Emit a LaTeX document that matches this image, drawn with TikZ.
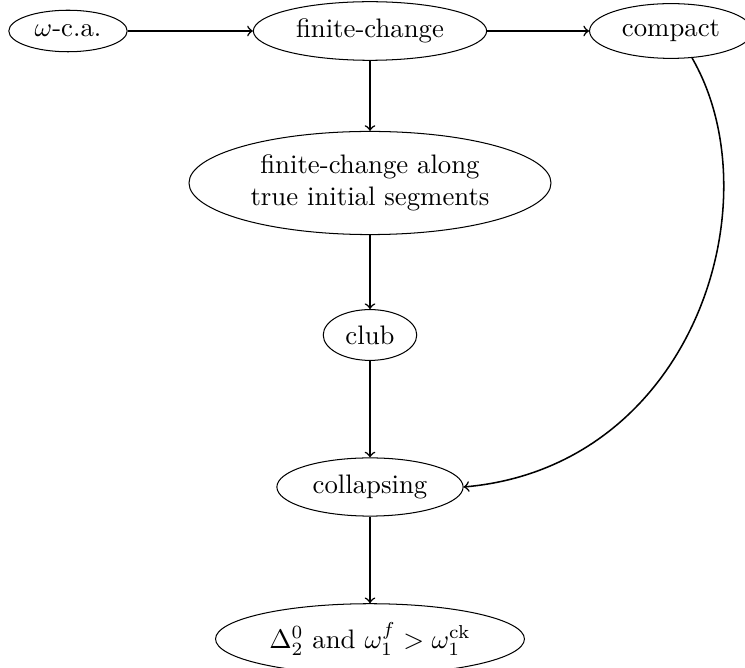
\RequirePackage{fix-cm}
\documentclass[tikz,border=0pt]{standalone}
\usepackage{amsmath}
\usetikzlibrary{shapes.geometric}
\begin{document}
\begin{tikzpicture}[x=0.3906pt,y=-0.3906pt,
  box/.style={draw,ellipse,align=center,font=\fontsize{10.45}{12.3}\selectfont},
  conn/.style={->,semithick}]
\useasboundingbox (0,0) rectangle (745,668);
\node[box] (wca) at (68,31) {$\omega$-c.a.};
\node[box] (fc) at (370,31) {finite-change};
\node[box] (cp) at (671,31) {compact};
\node[box] (fa) at (370,183) {finite-change along\\true initial segments};
\node[box] (club) at (370,335) {club};
\node[box] (col) at (370,487) {collapsing};
\node[box] (d2) at (370,639) {$\Delta^0_2$ and $\omega_1^f>\omega_1^{\mathrm{ck}}$};
\draw[conn] (wca) -- (fc);
\draw[conn] (fc) -- (cp);
\draw[conn] (fc) -- (fa);
\draw[conn] (fa) -- (club);
\draw[conn] (club) -- (col);
\draw[conn] (col) -- (d2);
\draw[conn] (cp.-52) to[out=-60,in=5,out distance=65pt,in distance=90pt] (col.east);
\end{tikzpicture}
\end{document}
